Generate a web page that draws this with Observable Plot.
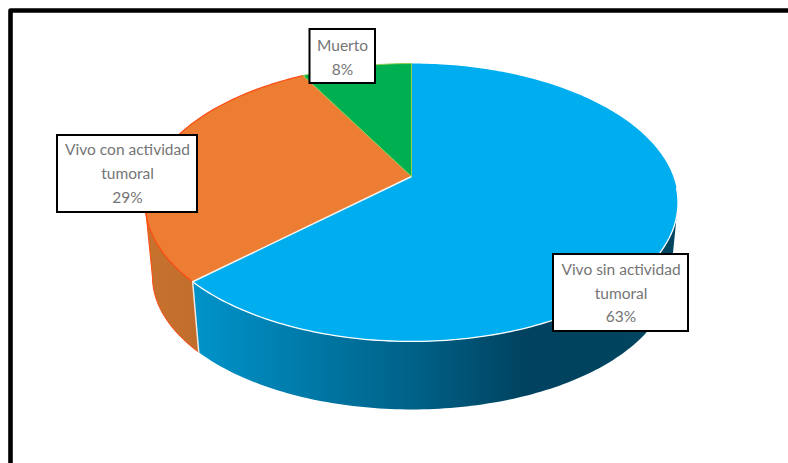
<!DOCTYPE html>
<html lang="es">
<head>
<meta charset="utf-8">
<script src="https://cdn.jsdelivr.net/npm/d3@7"></script>
<script src="https://cdn.jsdelivr.net/npm/@observablehq/plot@0.6"></script>
<style>
  html, body { margin: 0; padding: 0; background: #fff; }
  svg { display: block; }
</style>
</head>
<body>
<div id="chart"></div>
<script>
// Estado de los pacientes (porcentajes)
const categorias = ["Vivo sin actividad tumoral", "Vivo con actividad tumoral", "Muerto"];
const valores = [63, 29, 8];
const coloresCara = ["#00aeef", "#ec7d32", "#00b050"];
const coloresBorde = ["#ffffff", "#f8b58a", "#8fd050"];
const etiquetas = ["Vivo sin actividad\ntumoral", "Vivo con actividad\ntumoral", "Muerto"];

// Perspective model of the pie: a disc tilted away from the viewer
const K = 0.187;
const topFace = {cx: 411, cy: 176, a: 261.8, b: 134.1};
const baseFace = {cx: 411, cy: 251, a: 254.5, b: 128.4};
// Angles where the disc outline turns, right and left
const silhouetteRight = 101;
const silhouetteLeft = 259;

function project(face, deg) {
  const t = deg * Math.PI / 180;
  const u = Math.sin(t), v = Math.cos(t);
  const s = 1 / (1 + K * v);
  return {x: face.cx + face.a * u * s, y: face.cy - face.b * v * s};
}
function arc(face, from, to) {
  const n = Math.max(2, Math.ceil(Math.abs(to - from)));
  return d3.range(n + 1).map(i => project(face, from + (to - from) * i / n));
}

// Cumulative slice angles, clockwise from twelve o'clock
const total = d3.sum(valores);
let acum = 0;
const slices = valores.map((v, i) => {
  const start = acum / total * 360;
  acum += v;
  return {i, start, end: acum / total * 360};
});

const [azul, naranja, verde] = slices;
const apex = {x: topFace.cx, y: topFace.cy};

const wedge = s => [apex, ...arc(topFace, s.start, s.end), apex];
const wall = (from, to) => [...arc(topFace, from, to), ...arc(baseFace, to, from)];

const defs = () => {
  const d = d3.create("svg:defs");
  const grad = (id, x1, x2, stops) => {
    const g = d.append("linearGradient").attr("id", id)
      .attr("gradientUnits", "userSpaceOnUse")
      .attr("x1", x1).attr("x2", x2).attr("y1", 0).attr("y2", 0);
    stops.forEach(([o, c]) => g.append("stop").attr("offset", o).attr("stop-color", c));
  };
  grad("ladoAzul", 200, 680, [[0, "#0092c8"], [0.2, "#007cab"], [0.46, "#005f85"], [0.68, "#00425f"], [1, "#004560"]]);
  grad("ladoNaranja", 145, 205, [[0, "#c8722e"], [1, "#bf6c2c"]]);
  return d.node();
};

// Label boxes, centred on each text block
const cajas = [
  {x1: 553, x2: 688, y1: 254, y2: 331, tx: 620.5, ty: 290.5},
  {x1: 57, x2: 197, y1: 135, y2: 212, tx: 127, ty: 171},
  {x1: 309.5, x2: 375, y1: 29, y2: 83, tx: 342, ty: 55}
].map((c, i) => ({...c, text: `${etiquetas[i]}\n${valores[i]}%`}));

const marcoX = [788, 10, 10];
const marcoY = [10, 10, 463];
const marco = marcoX.map((x, i) => ({x, y: marcoY[i]}));

const poly = (pts, o) => Plot.line(pts, {x: "x", y: "y", ...o});

const chart = Plot.plot({
  width: 788,
  height: 463,
  margin: 0,
  style: {background: "#fff"},
  x: {domain: [0, 788], range: [0, 788], axis: null},
  y: {domain: [0, 463], range: [0, 463], axis: null},
  marks: [
    defs,
    poly(marco, {stroke: "#000", strokeWidth: 4.6, strokeLinejoin: "round"}),
    // Side walls
    poly(wall(silhouetteRight, azul.end), {fill: "url(#ladoAzul)", stroke: "none"}),
    poly(wall(azul.end, silhouetteLeft), {fill: "url(#ladoNaranja)", stroke: "none"}),
    poly([project(topFace, silhouetteLeft), ...arc(baseFace, silhouetteLeft, azul.end)], {stroke: "#ff4a10", strokeWidth: 1}),
    poly([project(topFace, azul.end), project(baseFace, azul.end)], {stroke: "#f2e8e0", strokeWidth: 1.5}),
    // Top faces
    ...slices.map(s => poly(wedge(s), {fill: coloresCara[s.i], stroke: "none"})),
    // Rims and radial edges
    poly(arc(topFace, 95, azul.end), {stroke: coloresBorde[0], strokeWidth: 1.3}),
    poly(arc(topFace, azul.end, naranja.end), {stroke: "#ff4a10", strokeWidth: 1.2}),
    poly(arc(topFace, verde.start, verde.end), {stroke: coloresBorde[2], strokeWidth: 1}),
    poly([apex, project(topFace, azul.end)], {stroke: "#f4f4f0", strokeWidth: 1.5}),
    poly([apex, project(topFace, naranja.end)], {stroke: coloresBorde[2], strokeWidth: 1}),
    poly([apex, project(topFace, 0)], {stroke: coloresBorde[2], strokeWidth: 1}),
    // Labels
    Plot.rect(cajas, {x1: "x1", x2: "x2", y1: "y1", y2: "y2", fill: "#fff", stroke: "#000", strokeWidth: 2}),
    Plot.text(cajas, {
      x: "tx", y: "ty", text: "text",
      fill: "#757575", fontSize: 15.5, lineHeight: 1.53,
      fontFamily: "Lato, 'Open Sans', sans-serif", textAnchor: "middle", lineAnchor: "middle"
    })
  ]
});
document.getElementById("chart").append(chart);
</script>
</body>
</html>
